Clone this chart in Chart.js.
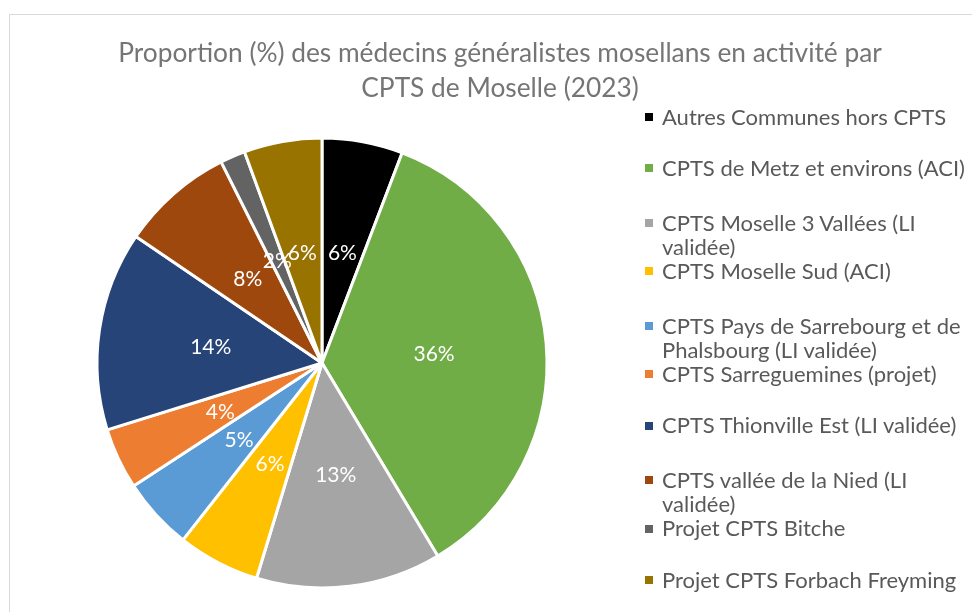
<!DOCTYPE html>
<html>
<head>
<meta charset="utf-8">
<script src="https://cdn.jsdelivr.net/npm/chart.js@4.4.1/dist/chart.umd.min.js"></script>
<style>
  html, body { margin:0; padding:0; background:#ffffff; width:972px; height:612px; overflow:hidden; }
  #frame { position:absolute; left:9px; top:14px; width:1100px; height:700px; border:1.5px solid #d9d9d9; box-sizing:border-box; }
  #chart { position:absolute; left:0; top:0; }
  #title { position:absolute; left:0; top:35px; width:1000px; text-align:center; font-family:Lato, "Open Sans", sans-serif; font-size:26.3px; line-height:35px; color:#757575; white-space:nowrap; }
  #legend { position:absolute; left:0; top:0; width:972px; height:612px; font-family:Lato, "Open Sans", sans-serif; font-size:22px; color:#595959; }
  .lg-item { position:absolute; left:662px; line-height:24.5px; white-space:nowrap; }
  .lg-box { position:absolute; left:645px; width:8px; height:8px; }
</style>
</head>
<body>
<div id="frame"></div>
<canvas id="chart" width="972" height="612"></canvas>
<div id="title"></div>
<div id="legend"></div>
<script>
const titleLines = [
  "Proportion (%) des médecins généralistes mosellans en activité par",
  "CPTS de Moselle (2023)"
];
const categories = [
  "Autres Communes hors CPTS",
  "CPTS de Metz et environs (ACI)",
  "CPTS Moselle 3 Vallées (LI validée)",
  "CPTS Moselle Sud (ACI)",
  "CPTS Pays de Sarrebourg et de Phalsbourg (LI validée)",
  "CPTS Sarreguemines (projet)",
  "CPTS Thionville Est (LI validée)",
  "CPTS vallée de la Nied (LI validée)",
  "Projet CPTS Bitche",
  "Projet CPTS Forbach Freyming"
];
const legendLines = [
  ["Autres Communes hors CPTS"],
  ["CPTS de Metz et environs (ACI)"],
  ["CPTS Moselle 3 Vallées (LI", "validée)"],
  ["CPTS Moselle Sud (ACI)"],
  ["CPTS Pays de Sarrebourg et de", "Phalsbourg (LI validée)"],
  ["CPTS Sarreguemines (projet)"],
  ["CPTS Thionville Est (LI validée)"],
  ["CPTS vallée de la Nied (LI", "validée)"],
  ["Projet CPTS Bitche"],
  ["Projet CPTS Forbach Freyming"]
];
const values = [5.8, 35.6, 13.3, 5.9, 5.2, 4.4, 14.3, 8.1, 1.8, 5.6];
const colors = ["#000000", "#70AD47", "#A5A5A5", "#FFC000", "#5B9BD5", "#ED7D31", "#264478", "#9E480E", "#636363", "#997300"];

function esc(s) { return s.replace(/&/g, '&amp;').replace(/</g, '&lt;'); }

document.getElementById('title').innerHTML = titleLines.map(esc).join('<br>');

// HTML legend built from the arrays
const legendEl = document.getElementById('legend');
legendLines.forEach((lines, i) => {
  const wrapped = lines.length > 1;
  const firstY = 117 + i * 51.45 + (wrapped ? 3 : 0);
  const item = document.createElement('div');
  item.className = 'lg-item';
  item.style.top = (firstY - 12.25) + 'px';
  item.innerHTML = lines.map(esc).join('<br>');
  legendEl.appendChild(item);
  const box = document.createElement('div');
  box.className = 'lg-box';
  box.style.top = (firstY - 4) + 'px';
  box.style.background = colors[i];
  legendEl.appendChild(box);
});

const pctLabels = {
  id: 'pctLabels',
  afterDatasetsDraw(chart) {
    const ctx = chart.ctx;
    const meta = chart.getDatasetMeta(0);
    const data = chart.data.datasets[0].data;
    const total = data.reduce((a, b) => a + b, 0);
    ctx.save();
    ctx.font = '21px Lato, "Open Sans", sans-serif';
    ctx.fillStyle = '#ffffff';
    ctx.textAlign = 'center';
    ctx.textBaseline = 'middle';
    meta.data.forEach((arc, i) => {
      const p = arc.tooltipPosition(true);
      ctx.fillText(Math.round(data[i] / total * 100) + '%', p.x, p.y + 1);
    });
    ctx.restore();
  }
};

new Chart(document.getElementById('chart'), {
  type: 'pie',
  data: {
    labels: categories,
    datasets: [{
      data: values,
      backgroundColor: colors,
      borderColor: '#ffffff',
      borderWidth: 3,
      hoverOffset: 0,
      radius: 225
    }]
  },
  options: {
    responsive: false,
    animation: false,
    events: [],
    layout: { padding: { left: 97, right: 425, top: 138, bottom: 24 } },
    plugins: {
      legend: { display: false },
      title: { display: false },
      tooltip: { enabled: false }
    }
  },
  plugins: [pctLabels]
});
</script>
</body>
</html>
